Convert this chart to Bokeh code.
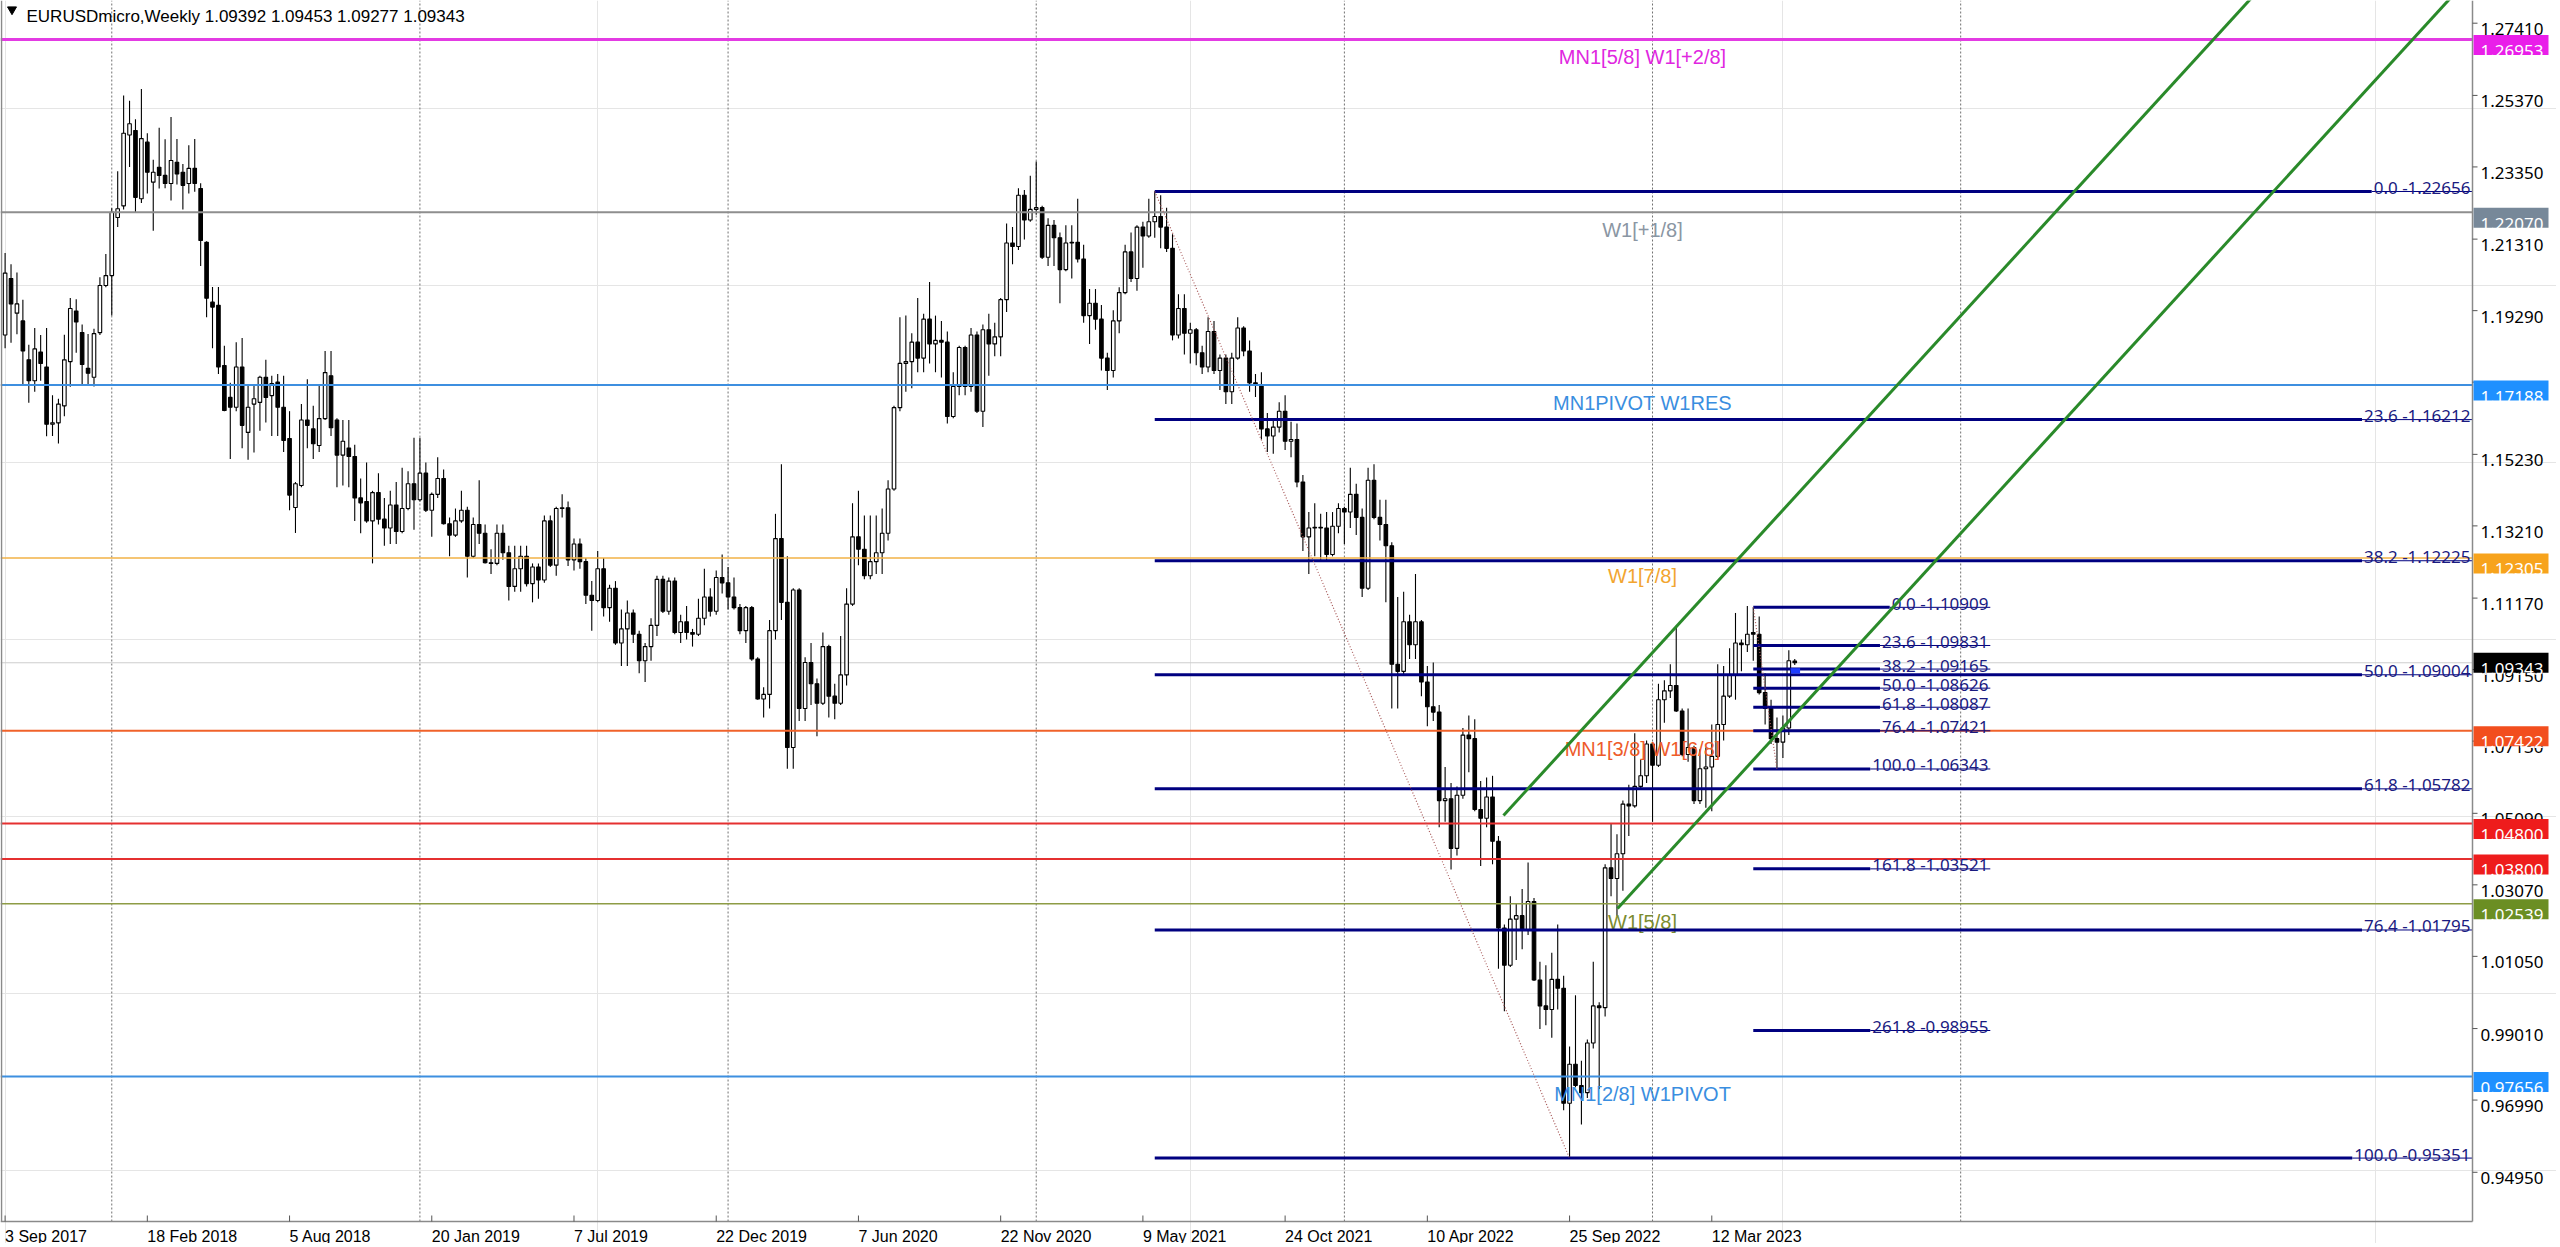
import numpy as np
from bokeh.plotting import figure
from bokeh.models import Range1d, ColumnDataSource
from bokeh.embed import file_html
from bokeh.resources import INLINE
from bokeh.core.properties import value

# ======================= DATA =======================
symbol_title = "EURUSDmicro,Weekly"
header_ohlc = ["1.09392", "1.09453", "1.09277", "1.09343"]

# weekly candles, bar 0 = week of 3 Sep 2017 ... bar 302 = week of 18 Jun 2023
week_open = [
    1.1860, 1.2020, 1.1922, 1.1900, 1.1790, 1.1731, 1.1812, 1.1770, 1.1608, 1.1612,
    1.1660, 1.1785, 1.1928, 1.1867, 1.1766, 1.1741, 1.1867, 1.2000, 1.2028, 1.2192,
    1.2225, 1.2425, 1.2438, 1.2245, 1.2405, 1.2292, 1.2334, 1.2311, 1.2288, 1.2348,
    1.2320, 1.2288, 1.2331, 1.2274, 1.2122, 1.1953, 1.1944, 1.1774, 1.1684, 1.1656,
    1.1770, 1.1585, 1.1665, 1.1670, 1.1741, 1.1689, 1.1727, 1.1656, 1.1568, 1.1373,
    1.1435, 1.1620, 1.1595, 1.1548, 1.1624, 1.1745, 1.1620, 1.1521, 1.1541, 1.1517,
    1.1400, 1.1390, 1.1335, 1.1415, 1.1340, 1.1315, 1.1380, 1.1305, 1.1370, 1.1440,
    1.1395, 1.1470, 1.1365, 1.1410, 1.1455, 1.1327, 1.1295, 1.1335, 1.1365, 1.1235,
    1.1325, 1.1300, 1.1217, 1.1215, 1.1300, 1.1245, 1.1150, 1.1200, 1.1235, 1.1158,
    1.1205, 1.1168, 1.1335, 1.1210, 1.1370, 1.1372, 1.1225, 1.1270, 1.1220, 1.1125,
    1.1110, 1.1200, 1.1090, 1.1145, 1.0990, 1.1030, 1.1075, 1.1015, 1.0940, 1.0980,
    1.1040, 1.1170, 1.1080, 1.1165, 1.1020, 1.1050, 1.1020, 1.1015, 1.1060, 1.1120,
    1.1080, 1.1175, 1.1160, 1.1120, 1.1090, 1.1025, 1.1090, 1.0945, 1.0832, 1.0845,
    1.1025, 1.1285, 1.1105, 1.0695, 1.1140, 1.0805, 1.0935, 1.0875, 1.0820, 1.0980,
    1.0840, 1.0820, 1.0900, 1.1100, 1.1290, 1.1255, 1.1180, 1.1220, 1.1245, 1.1300,
    1.1425, 1.1655, 1.1780, 1.1785, 1.1840, 1.1795, 1.1905, 1.1835, 1.1845, 1.1840,
    1.1630, 1.1715, 1.1825, 1.1715, 1.1860, 1.1645, 1.1875, 1.1835, 1.1855, 1.1960,
    1.2120, 1.2110, 1.2255, 1.2185, 1.2215, 1.2220, 1.2080, 1.2170, 1.2135, 1.2045,
    1.2120, 1.2122, 1.2075, 1.1915, 1.1950, 1.1905, 1.1795, 1.1760, 1.1900, 1.1980,
    1.2095, 1.2020, 1.2165, 1.2140, 1.2180, 1.2195, 1.2165, 1.2105, 1.1860, 1.1935,
    1.1865, 1.1875, 1.1810, 1.1770, 1.1870, 1.1760, 1.1795, 1.1700, 1.1795, 1.1880,
    1.1815, 1.1725, 1.1720, 1.1595, 1.1575, 1.1600, 1.1645, 1.1560, 1.1565, 1.1445,
    1.1290, 1.1315, 1.1317, 1.1315, 1.1240, 1.1320, 1.1370, 1.1360, 1.1410, 1.1345,
    1.1145, 1.1450, 1.1345, 1.1325, 1.1265, 1.0930, 1.0910, 1.1050, 1.0985, 1.1050,
    1.0880, 1.0810, 1.0795, 1.0545, 1.0550, 1.0410, 1.0560, 1.0730, 1.0720, 1.0520,
    1.0495, 1.0555, 1.0430, 1.0185, 1.0080, 1.0210, 1.0220, 1.0180, 1.0260, 1.0038,
    0.9965, 0.9955, 1.0040, 1.0015, 0.9690, 0.9800, 0.9740, 0.9720, 0.9860, 0.9965,
    0.9960, 1.0355, 1.0325, 1.0395, 1.0535, 1.0530, 1.0585, 1.0615, 1.0705, 1.0645,
    1.0830, 1.0855, 1.0870, 1.0798, 1.0675, 1.0695, 1.0545, 1.0635, 1.0640, 1.0670,
    1.0760, 1.0840, 1.0900, 1.0990, 1.0985, 1.1020, 1.1015, 1.0850, 1.0805, 1.0720,
    1.0710, 1.0750, 1.09392]

week_high = [
    1.2092, 1.2060, 1.2037, 1.1960, 1.1833, 1.1880, 1.1860, 1.1880, 1.1690, 1.1680,
    1.1861, 1.1965, 1.1961, 1.1890, 1.1863, 1.1878, 1.2023, 1.2089, 1.2218, 1.2323,
    1.2537, 1.2522, 1.2470, 1.2555, 1.2430, 1.2355, 1.2446, 1.2413, 1.2476, 1.2414,
    1.2343, 1.2396, 1.2414, 1.2289, 1.2125, 1.1996, 1.1996, 1.1830, 1.1725, 1.1840,
    1.1852, 1.1720, 1.1720, 1.1745, 1.1790, 1.1745, 1.1750, 1.1745, 1.1645, 1.1445,
    1.1665, 1.1735, 1.1660, 1.1720, 1.1815, 1.1815, 1.1625, 1.1620, 1.1620, 1.1550,
    1.1455, 1.1500, 1.1420, 1.1470, 1.1400, 1.1420, 1.1445, 1.1485, 1.1475, 1.1570,
    1.1570, 1.1500, 1.1415, 1.1515, 1.1480, 1.1345, 1.1370, 1.1420, 1.1375, 1.1345,
    1.1450, 1.1325, 1.1255, 1.1325, 1.1325, 1.1265, 1.1265, 1.1265, 1.1265, 1.1215,
    1.1215, 1.1350, 1.1350, 1.1375, 1.1410, 1.1390, 1.1285, 1.1285, 1.1230, 1.1165,
    1.1250, 1.1230, 1.1155, 1.1165, 1.1085, 1.1110, 1.1085, 1.1025, 1.0990, 1.1060,
    1.1180, 1.1180, 1.1175, 1.1175, 1.1070, 1.1095, 1.1030, 1.1115, 1.1200, 1.1145,
    1.1195, 1.1240, 1.1205, 1.1175, 1.1100, 1.1095, 1.1095, 1.0950, 1.0865, 1.1055,
    1.1355, 1.1495, 1.1235, 1.1145, 1.1145, 1.0950, 1.0990, 1.0890, 1.1020, 1.0985,
    1.0875, 1.1010, 1.1145, 1.1385, 1.1420, 1.1350, 1.1350, 1.1350, 1.1370, 1.1450,
    1.1660, 1.1910, 1.1915, 1.1865, 1.1965, 1.1920, 1.2010, 1.1915, 1.1900, 1.1870,
    1.1755, 1.1830, 1.1830, 1.1880, 1.1870, 1.1890, 1.1920, 1.1895, 1.1965, 1.2175,
    1.2165, 1.2275, 1.2270, 1.2310, 1.2350, 1.2225, 1.2190, 1.2185, 1.2150, 1.2170,
    1.2170, 1.2245, 1.2115, 1.1990, 1.1990, 1.1945, 1.1810, 1.1930, 1.1995, 1.2115,
    1.2150, 1.2170, 1.2180, 1.2245, 1.2266, 1.2255, 1.2220, 1.2145, 1.1975, 1.1975,
    1.1895, 1.1880, 1.1830, 1.1910, 1.1900, 1.1805, 1.1805, 1.1810, 1.1910, 1.1885,
    1.1845, 1.1750, 1.1755, 1.1640, 1.1625, 1.1670, 1.1690, 1.1615, 1.1610, 1.1465,
    1.1360, 1.1385, 1.1355, 1.1360, 1.1360, 1.1385, 1.1375, 1.1485, 1.1440, 1.1370,
    1.1485, 1.1495, 1.1395, 1.1395, 1.1275, 1.1120, 1.1135, 1.1070, 1.1185, 1.1055,
    1.0925, 1.0935, 1.0815, 1.0640, 1.0595, 1.0585, 1.0750, 1.0785, 1.0775, 1.0600,
    1.0610, 1.0615, 1.0445, 1.0195, 1.0275, 1.0255, 1.0295, 1.0370, 1.0270, 1.0090,
    1.0080, 1.0115, 1.0195, 1.0050, 0.9850, 0.9995, 0.9810, 0.9870, 1.0090, 0.9975,
    1.0365, 1.0480, 1.0450, 1.0545, 1.0590, 1.0735, 1.0660, 1.0715, 1.0710, 1.0875,
    1.0885, 1.0930, 1.1035, 1.0805, 1.0805, 1.0700, 1.0690, 1.0695, 1.0760, 1.0930,
    1.0925, 1.0975, 1.1075, 1.1000, 1.1095, 1.1091, 1.1065, 1.0905, 1.0830, 1.0780,
    1.0785, 1.0970, 1.09453]

week_low = [
    1.1823, 1.1838, 1.1862, 1.1717, 1.1669, 1.1700, 1.1731, 1.1574, 1.1575, 1.1554,
    1.1631, 1.1714, 1.1810, 1.1717, 1.1718, 1.1715, 1.1860, 1.1995, 1.1915, 1.2165,
    1.2215, 1.2335, 1.2206, 1.2233, 1.2260, 1.2155, 1.2274, 1.2275, 1.2240, 1.2285,
    1.2215, 1.2260, 1.2265, 1.2055, 1.1910, 1.1823, 1.1750, 1.1645, 1.1510, 1.1645,
    1.1540, 1.1508, 1.1528, 1.1590, 1.1613, 1.1575, 1.1575, 1.1530, 1.1365, 1.1301,
    1.1430, 1.1540, 1.1510, 1.1530, 1.1620, 1.1575, 1.1430, 1.1435, 1.1430, 1.1335,
    1.1300, 1.1330, 1.1215, 1.1325, 1.1265, 1.1270, 1.1270, 1.1300, 1.1365, 1.1310,
    1.1390, 1.1360, 1.1290, 1.1400, 1.1325, 1.1235, 1.1290, 1.1330, 1.1175, 1.1230,
    1.1270, 1.1215, 1.1185, 1.1210, 1.1225, 1.1110, 1.1135, 1.1135, 1.1150, 1.1105,
    1.1115, 1.1160, 1.1205, 1.1180, 1.1345, 1.1208, 1.1195, 1.1200, 1.1100, 1.1025,
    1.1105, 1.1065, 1.1050, 1.0985, 1.0925, 1.0925, 1.0990, 1.0905, 1.0880, 1.0940,
    1.1010, 1.1075, 1.1070, 1.1015, 1.0990, 1.1000, 1.0980, 1.1010, 1.1040, 1.1065,
    1.1070, 1.1130, 1.1085, 1.1085, 1.1015, 1.0990, 1.0940, 1.0830, 1.0780, 1.0805,
    1.1000, 1.1055, 1.0635, 1.0635, 1.0770, 1.0770, 1.0815, 1.0727, 1.0815, 1.0780,
    1.0775, 1.0815, 1.0870, 1.1095, 1.1210, 1.1170, 1.1170, 1.1185, 1.1185, 1.1280,
    1.1420, 1.1645, 1.1700, 1.1710, 1.1755, 1.1755, 1.1780, 1.1755, 1.1740, 1.1610,
    1.1625, 1.1690, 1.1690, 1.1700, 1.1640, 1.1600, 1.1745, 1.1800, 1.1800, 1.1925,
    1.2060, 1.2100, 1.2130, 1.2180, 1.2200, 1.2075, 1.2055, 1.2055, 1.1950, 1.2040,
    1.2020, 1.2065, 1.1895, 1.1835, 1.1875, 1.1760, 1.1705, 1.1740, 1.1865, 1.1975,
    1.2010, 1.1985, 1.2050, 1.2135, 1.2135, 1.2105, 1.2095, 1.1845, 1.1850, 1.1805,
    1.1780, 1.1775, 1.1750, 1.1755, 1.1750, 1.1705, 1.1665, 1.1665, 1.1790, 1.1800,
    1.1700, 1.1685, 1.1565, 1.1530, 1.1525, 1.1585, 1.1535, 1.1515, 1.1430, 1.1250,
    1.1185, 1.1235, 1.1225, 1.1220, 1.1235, 1.1300, 1.1270, 1.1315, 1.1295, 1.1120,
    1.1140, 1.1340, 1.1280, 1.1105, 1.0805, 1.0805, 1.0900, 1.0945, 1.0945, 1.0840,
    1.0755, 1.0770, 1.0470, 1.0485, 1.0350, 1.0390, 1.0550, 1.0625, 1.0515, 1.0360,
    1.0470, 1.0365, 1.0070, 0.9950, 1.0075, 1.0095, 1.0125, 1.0165, 1.0035, 0.9900,
    0.9910, 0.9875, 0.9955, 0.9670, 0.9535, 0.9735, 0.9630, 0.9705, 0.9845, 0.9730,
    0.9935, 1.0275, 1.0220, 1.0290, 1.0445, 1.0525, 1.0575, 1.0595, 1.0485, 1.0640,
    1.0765, 1.0835, 1.0795, 1.0670, 1.0655, 1.0535, 1.0535, 1.0525, 1.0515, 1.0665,
    1.0715, 1.0835, 1.0830, 1.0910, 1.0965, 1.0940, 1.0845, 1.0760, 1.0705, 1.0635,
    1.0665, 1.0730, 1.09277]

week_close = [
    1.2035, 1.1948, 1.1948, 1.1815, 1.1731, 1.1821, 1.1780, 1.1608, 1.1612, 1.1665,
    1.1790, 1.1935, 1.1897, 1.1777, 1.1752, 1.1864, 1.2000, 1.2028, 1.2207, 1.2217,
    1.2430, 1.2457, 1.2249, 1.2415, 1.2320, 1.2320, 1.2311, 1.2288, 1.2353, 1.2315,
    1.2283, 1.2331, 1.2288, 1.2127, 1.1964, 1.1939, 1.1770, 1.1647, 1.1656, 1.1770,
    1.1605, 1.1656, 1.1680, 1.1741, 1.1684, 1.1723, 1.1656, 1.1562, 1.1408, 1.1440,
    1.1620, 1.1605, 1.1553, 1.1624, 1.1754, 1.1598, 1.1521, 1.1560, 1.1517, 1.1400,
    1.1386, 1.1335, 1.1415, 1.1340, 1.1315, 1.1380, 1.1305, 1.1370, 1.1440, 1.1395,
    1.1470, 1.1365, 1.1410, 1.1455, 1.1327, 1.1295, 1.1335, 1.1365, 1.1235, 1.1325,
    1.1300, 1.1217, 1.1215, 1.1300, 1.1245, 1.1150, 1.1200, 1.1235, 1.1158, 1.1205,
    1.1168, 1.1335, 1.1210, 1.1370, 1.1372, 1.1225, 1.1270, 1.1220, 1.1125, 1.1110,
    1.1200, 1.1090, 1.1145, 1.0990, 1.1030, 1.1075, 1.1015, 1.0940, 1.0980, 1.1040,
    1.1170, 1.1080, 1.1165, 1.1020, 1.1050, 1.1020, 1.1015, 1.1060, 1.1120, 1.1080,
    1.1175, 1.1160, 1.1120, 1.1090, 1.1025, 1.1090, 1.0945, 1.0832, 1.0845, 1.1025,
    1.1285, 1.1105, 1.0695, 1.1140, 1.0805, 1.0935, 1.0875, 1.0820, 1.0980, 1.0840,
    1.0820, 1.0900, 1.1100, 1.1290, 1.1255, 1.1180, 1.1220, 1.1245, 1.1300, 1.1425,
    1.1655, 1.1780, 1.1785, 1.1840, 1.1795, 1.1905, 1.1835, 1.1845, 1.1840, 1.1630,
    1.1715, 1.1825, 1.1715, 1.1860, 1.1645, 1.1875, 1.1835, 1.1855, 1.1960, 1.2120,
    1.2110, 1.2255, 1.2185, 1.2215, 1.2220, 1.2080, 1.2170, 1.2135, 1.2045, 1.2120,
    1.2122, 1.2075, 1.1915, 1.1950, 1.1905, 1.1795, 1.1760, 1.1900, 1.1980, 1.2095,
    1.2020, 1.2165, 1.2140, 1.2180, 1.2195, 1.2165, 1.2105, 1.1860, 1.1935, 1.1865,
    1.1875, 1.1810, 1.1770, 1.1870, 1.1760, 1.1795, 1.1700, 1.1795, 1.1880, 1.1815,
    1.1725, 1.1720, 1.1595, 1.1575, 1.1600, 1.1645, 1.1560, 1.1565, 1.1445, 1.1290,
    1.1315, 1.1317, 1.1315, 1.1240, 1.1320, 1.1370, 1.1360, 1.1410, 1.1345, 1.1145,
    1.1450, 1.1345, 1.1325, 1.1265, 1.0930, 1.0910, 1.1050, 1.0985, 1.1050, 1.0880,
    1.0810, 1.0795, 1.0545, 1.0550, 1.0410, 1.0560, 1.0730, 1.0720, 1.0520, 1.0495,
    1.0555, 1.0430, 1.0185, 1.0080, 1.0210, 1.0220, 1.0180, 1.0260, 1.0038, 0.9965,
    0.9955, 1.0040, 1.0015, 0.9690, 0.9800, 0.9740, 0.9720, 0.9860, 0.9965, 0.9960,
    1.0355, 1.0325, 1.0395, 1.0535, 1.0530, 1.0585, 1.0615, 1.0705, 1.0645, 1.0830,
    1.0855, 1.0870, 1.0798, 1.0675, 1.0695, 1.0545, 1.0635, 1.0640, 1.0670, 1.0760,
    1.0840, 1.0900, 1.0990, 1.0985, 1.1015, 1.1015, 1.0850, 1.0805, 1.0720, 1.0710,
    1.0750, 1.0940, 1.09343]

date_tick_bars = [0, 24, 48, 72, 96, 120, 144, 168, 192, 216, 240, 264, 288]
date_tick_labels = ["3 Sep 2017", "18 Feb 2018", "5 Aug 2018", "20 Jan 2019", "7 Jul 2019",
                    "22 Dec 2019", "7 Jun 2020", "22 Nov 2020", "9 May 2021", "24 Oct 2021",
                    "10 Apr 2022", "25 Sep 2022", "12 Mar 2023"]
year_start_bars = [18, 70, 122, 174, 226, 278, 330]

price_ticks = [1.27410, 1.25370, 1.23350, 1.21310, 1.19290, 1.17270, 1.15230, 1.13210,
               1.11170, 1.09150, 1.07130, 1.05090, 1.03070, 1.01050, 0.99010, 0.96990, 0.94950]

murrey_prices = [1.26953, 1.22070, 1.17188, 1.12305, 1.07422, 1.04800, 1.03800, 1.02539, 0.97656]
murrey_labels = ["MN1[5/8] W1[+2/8]", "W1[+1/8]", "MN1PIVOT W1RES", "W1[7/8]",
                 "MN1[3/8] W1[6/8]", "", "", "W1[5/8]", "MN1[2/8] W1PIVOT"]
bid_price = 1.09343

fib_major_anchor_bars = [194, 264]
fib_major_levels = ["0.0", "23.6", "38.2", "50.0", "61.8", "76.4", "100.0"]
fib_major_prices = [1.22656, 1.16212, 1.12225, 1.09004, 1.05782, 1.01795, 0.95351]

fib_minor_anchor_bars = [295, 299]
fib_minor_end_bar = 335
fib_minor_levels = ["0.0", "23.6", "38.2", "50.0", "61.8", "76.4", "100.0", "161.8", "261.8"]
fib_minor_prices = [1.10909, 1.09831, 1.09165, 1.08626, 1.08087, 1.07421, 1.06343, 1.03521, 0.98955]

channel_upper_bars = [252.85, 380.0]
channel_upper_prices = [1.05029, 1.28294]
channel_lower_bars = [272.09, 420.0]
channel_lower_prices = [1.02402, 1.29465]

marker_box_bars = [301.3, 302.9]
marker_box_prices = [1.0904, 1.0919]

n = len(week_open)
assert n == len(week_high) == len(week_low) == len(week_close) == 303

# ======================= LAYOUT (page pixel calibration) =======================
# the figure sits at the page's top-left corner; page pixels == reference pixels
W, H = 2556, 1243
BAR_PX0, BAR_STEP = 4.6, 5.926
CHART_BOTTOM_PX = 1221.0
P_REF, P_REF_PX, PX_PER_P = 1.27410, 22.7, 3540.0


def bx(px):
    return (px - BAR_PX0) / BAR_STEP


def py(pix):
    return P_REF - (pix - P_REF_PX) / PX_PER_P


def dp(npx):
    return npx / PX_PER_P


X0, X1 = bx(0), bx(W)
Y0, Y1 = py(H), py(0)
CH_LEFT, CH_RIGHT = bx(0), bx(2472)
CH_BOTTOM = py(CHART_BOTTOM_PX)

MT_FONT = value("Noto Sans")
AX_FONT = value("Liberation Sans")
MT_SIZE = "17px"
DATE_SIZE = "16px"
OBJ_FONT = value("Liberation Sans")
OBJ_SIZE = "20px"
NAVY = "#000080"

p = figure(width=W, height=H, x_range=Range1d(X0, X1), y_range=Range1d(Y0, Y1),
           x_axis_location=None, y_axis_location=None, toolbar_location=None,
           output_backend="svg", min_border=0, outline_line_color=None,
           background_fill_color="white", border_fill_color="white")

# yearly dotted grid
p.segment(x0=year_start_bars, y0=[CH_BOTTOM] * len(year_start_bars),
          x1=year_start_bars, y1=[Y1] * len(year_start_bars),
          line_color="#707070", line_width=1, line_dash="2 2")

# bid line
p.segment(x0=[CH_LEFT], y0=[bid_price], x1=[CH_RIGHT], y1=[bid_price],
          line_color="#cdcdcd", line_width=1)

# ---- candles ----
o = np.array(week_open); h = np.array(week_high); l = np.array(week_low); c = np.array(week_close)
bull = c >= o
csrc = ColumnDataSource(dict(x=list(range(n)), hi=list(h), lo=list(l),
                             top=list(np.maximum(o, c)), bottom=list(np.minimum(o, c)),
                             fill=["white" if b else "black" for b in bull]))
p.segment(x0="x", y0="lo", x1="x", y1="hi", source=csrc, line_color="black", line_width=1.1)
p.vbar(x="x", width=0.6, top="top", bottom="bottom", fill_color="fill",
       line_color="black", line_width=1.1, source=csrc)

# ---- Murrey / pivot horizontal lines ----
m_line_colors = ["#e33be3", "#8e8e8e", "#3d8fe0", "#f2b246", "#f0622a", "#e53030", "#e53030", "#8e9c45", "#3d8fe0"]
m_line_widths = [3, 2, 2, 1.5, 2, 2, 2, 1.5, 2]
m_text_colors = ["#e026e0", "#8a96a3", "#3a8ee0", "#f2a530", "#ee5b2a", "#e53030", "#e53030", "#7c8c30", "#3a8ee0"]
m_box_colors = ["#e91ee9", "#778899", "#1e90ff", "#f7a31c", "#f24e1e", "#ee1c1c", "#ee1c1c", "#6b8e23", "#1e90ff"]

for pr, lc, lw in zip(murrey_prices, m_line_colors, m_line_widths):
    p.segment(x0=[CH_LEFT], y0=[pr], x1=[CH_RIGHT], y1=[pr], line_color=lc, line_width=lw)

lab_idx = [i for i, t in enumerate(murrey_labels) if t]
msrc = ColumnDataSource(dict(x=[bx(1642)] * len(lab_idx),
                             y=[murrey_prices[i] for i in lab_idx],
                             t=[murrey_labels[i] for i in lab_idx],
                             col=[m_text_colors[i] for i in lab_idx]))
p.text(x="x", y="y", text="t", text_color="col", source=msrc, text_align="center",
       text_baseline="alphabetic", y_offset=18, text_font=OBJ_FONT, text_font_size=OBJ_SIZE)

# ---- Fibonacci retracements ----
CW = {".": 0.268, " ": 0.26, "-": 0.322}


def text_w(s, size=17.0):
    return size * sum(CW.get(ch, 0.572) for ch in s)


def draw_fib(start_bar, end_bar, label_right_px, levels, prices):
    labels = [f"{lv} -{pr:.5f}" for lv, pr in zip(levels, prices)]
    lefts = [bx(label_right_px - text_w(t) - 2) for t in labels]
    p.segment(x0=[start_bar] * len(prices), y0=prices, x1=lefts, y1=prices,
              line_color=NAVY, line_width=3)
    p.segment(x0=lefts, y0=prices, x1=[end_bar] * len(prices), y1=prices,
              line_color=NAVY, line_width=1)
    p.text(x=[bx(label_right_px)] * len(prices), y=prices, text=labels, text_align="right",
           text_baseline="alphabetic", y_offset=-4, text_color="#1a1a80",
           text_font=MT_FONT, text_font_size=MT_SIZE)


draw_fib(fib_major_anchor_bars[0], CH_RIGHT, 2470, fib_major_levels, fib_major_prices)
draw_fib(fib_minor_anchor_bars[0], fib_minor_end_bar, 1988, fib_minor_levels, fib_minor_prices)

# fib trend (dotted)
p.segment(x0=[fib_major_anchor_bars[0], fib_minor_anchor_bars[0]],
          y0=[fib_major_prices[0], fib_minor_prices[0]],
          x1=[fib_major_anchor_bars[1], fib_minor_anchor_bars[1]],
          y1=[fib_major_prices[-1], fib_minor_prices[6]],
          line_color="#a85a5a", line_width=1.2, line_dash="1 2")

# ---- green channel ----
p.line(x=channel_upper_bars, y=channel_upper_prices, line_color="#2a8a2a", line_width=3)
p.line(x=channel_lower_bars, y=channel_lower_prices, line_color="#2a8a2a", line_width=3)

# small blue marker near the last bar
p.quad(left=[marker_box_bars[0]], right=[marker_box_bars[1]],
       bottom=[marker_box_prices[0]], top=[marker_box_prices[1]],
       fill_color="#1c3cff", line_color=None)

# ---- chart frame / axes ----
p.segment(x0=[CH_LEFT], y0=[CH_BOTTOM], x1=[CH_RIGHT], y1=[CH_BOTTOM], line_color="#8a8a8a", line_width=1.5)
p.segment(x0=[CH_RIGHT], y0=[CH_BOTTOM], x1=[CH_RIGHT], y1=[Y1], line_color="#8a8a8a", line_width=1.5)
p.segment(x0=[bx(1)], y0=[CH_BOTTOM], x1=[bx(1)], y1=[Y1], line_color="#8a8a8a", line_width=1.5)

# date ticks (pointing up into the chart) and labels
p.segment(x0=date_tick_bars, y0=[CH_BOTTOM] * len(date_tick_bars),
          x1=date_tick_bars, y1=[CH_BOTTOM + dp(6)] * len(date_tick_bars),
          line_color="#555555", line_width=1)
date_label_x = [max(b, bx(2)) for b in date_tick_bars]
p.text(x=date_label_x, y=[CH_BOTTOM] * len(date_tick_bars), text=date_tick_labels,
       text_align="left", text_baseline="alphabetic", y_offset=14.5, text_color="black",
       text_font=AX_FONT, text_font_size=DATE_SIZE)

# price ticks and labels
p.segment(x0=[CH_RIGHT] * len(price_ticks), y0=price_ticks,
          x1=[bx(2477)] * len(price_ticks), y1=price_ticks, line_color="#555555", line_width=1)
p.text(x=[bx(2480)] * len(price_ticks), y=price_ticks, text=[f"{v:.5f}" for v in price_ticks],
       text_align="left", text_baseline="alphabetic", y_offset=6, text_color="black",
       text_font=MT_FONT, text_font_size=MT_SIZE)

# coloured price boxes for the horizontal lines
p.quad(left=[bx(2473)] * len(murrey_prices), right=[bx(2548)] * len(murrey_prices),
       top=[v + dp(4.5) for v in murrey_prices], bottom=[v - dp(15.5) for v in murrey_prices],
       fill_color=m_box_colors, line_color=None)
p.text(x=[bx(2480)] * len(murrey_prices), y=murrey_prices, text=[f"{v:.5f}" for v in murrey_prices],
       text_align="left", text_baseline="alphabetic", y_offset=11.5, text_color="white",
       text_font=MT_FONT, text_font_size=MT_SIZE)

# bid box
p.quad(left=[bx(2473)], right=[bx(2548)], top=[bid_price + dp(10)], bottom=[bid_price - dp(10)],
       fill_color="black", line_color=None)
p.text(x=[bx(2480)], y=[bid_price], text=[f"{bid_price:.5f}"], text_align="left",
       text_baseline="alphabetic", y_offset=6, text_color="white",
       text_font=MT_FONT, text_font_size=MT_SIZE)

# ---- header ----
p.scatter(x=[bx(11.5)], y=[py(9)], marker="inverted_triangle", size=9, color="black")
p.text(x=[bx(26)], y=[py(16)], text=[symbol_title + "  " + " ".join(header_ohlc)],
       text_align="left", text_baseline="alphabetic", text_color="black",
       text_font=AX_FONT, text_font_size=MT_SIZE)

open("out.html", "w").write(file_html(p, INLINE))
